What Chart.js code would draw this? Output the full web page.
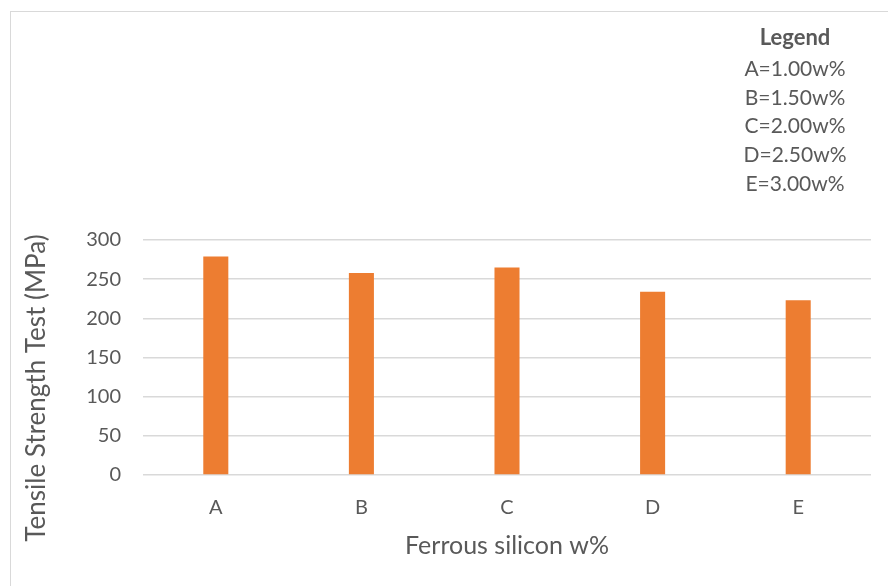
<!DOCTYPE html>
<html>
<head>
<meta charset="utf-8">
<script src="https://cdn.jsdelivr.net/npm/chart.js@4.4.1/dist/chart.umd.min.js"></script>
<style>
  html, body { margin: 0; padding: 0; background: #ffffff; }
  #wrap { position: relative; width: 888px; height: 586px; overflow: hidden; }
  #frame { position: absolute; left: 10px; top: 11px; width: 900px; height: 600px;
           border: 1px solid #d9d9d9; box-sizing: border-box; }
  canvas { position: absolute; left: 0; top: 0; }
</style>
</head>
<body>
<div id="wrap">
  <div id="frame"></div>
  <canvas id="chart" width="888" height="586"></canvas>
</div>
<script>
// Tensile strength per ferrous silicon addition
const categories = ['A', 'B', 'C', 'D', 'E'];
const tensileStrength = [279, 258, 265, 234, 223];
const yTicks = [0, 50, 100, 150, 200, 250, 300];
const legendTitle = 'Legend';
const legendLines = ['A=1.00w%', 'B=1.50w%', 'C=2.00w%', 'D=2.50w%', 'E=3.00w%'];
const xTitle = 'Ferrous silicon w%';
const yTitle = 'Tensile Strength Test (MPa)';

const FONT = 'Lato, "Open Sans", "DejaVu Sans", sans-serif';
const TEXT = '#595959';

// Key text block and axis titles drawn on the canvas
const annotations = {
  id: 'annotations',
  afterDraw(chart) {
    const ctx = chart.ctx;
    const area = chart.chartArea;
    ctx.save();
    ctx.fillStyle = TEXT;
    ctx.textAlign = 'center';
    ctx.textBaseline = 'middle';
    ctx.font = 'bold 22px ' + FONT;
    ctx.fillText(legendTitle, 795, 38);
    ctx.font = '21px ' + FONT;
    legendLines.forEach((t, i) => ctx.fillText(t, 795, 69 + i * 28.8));

    ctx.font = '25px ' + FONT;
    ctx.fillText(xTitle, (area.left + area.right) / 2, 546);

    ctx.font = '26px ' + FONT;
    ctx.translate(37, 388);
    ctx.rotate(-Math.PI / 2);
    ctx.fillText(yTitle, 0, 0);
    ctx.restore();
  }
};

new Chart(document.getElementById('chart'), {
  type: 'bar',
  data: {
    labels: categories,
    datasets: [{
      data: tensileStrength,
      backgroundColor: '#ED7D31',
      borderWidth: 0,
      categoryPercentage: 1.0,
      barPercentage: 0.172
    }]
  },
  options: {
    responsive: false,
    animation: false,
    layout: { padding: { left: 10, right: 17, top: 240, bottom: 0 } },
    plugins: {
      legend: { display: false },
      tooltip: { enabled: false }
    },
    scales: {
      x: {
        grid: { display: false, drawTicks: false },
        border: { display: false },
        ticks: { color: TEXT, font: { family: FONT, size: 20 }, padding: 21 },
        afterFit(scale) { scale.height = 111; }
      },
      y: {
        min: 0,
        max: 300,
        afterBuildTicks(scale) { scale.ticks = yTicks.map(v => ({ value: v })); },
        grid: { color: '#d9d9d9', lineWidth: 1.5, drawTicks: false },
        border: { display: false },
        ticks: { color: TEXT, font: { family: FONT, size: 20 }, padding: 22 },
        afterFit(scale) { scale.width = 133; }
      }
    }
  },
  plugins: [annotations]
});
</script>
</body>
</html>
